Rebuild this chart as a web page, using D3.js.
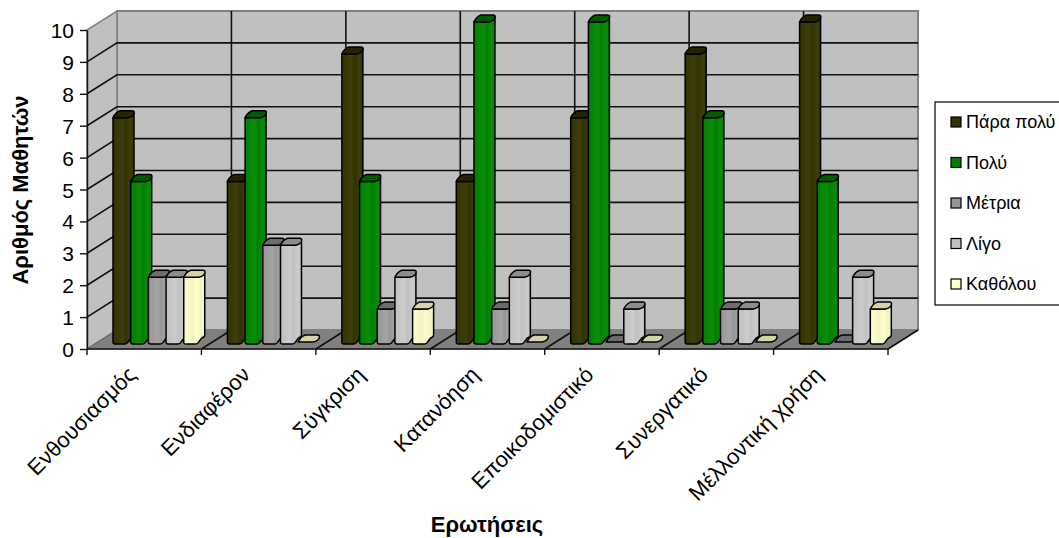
<!DOCTYPE html>
<html>
<head>
<meta charset="utf-8">
<script src="https://cdn.jsdelivr.net/npm/d3@7/dist/d3.min.js"></script>
<style>
  html, body { margin: 0; padding: 0; background: #fff; overflow: hidden; }
  text { font-family: "Liberation Sans", Arial, sans-serif; fill: #000; }
</style>
</head>
<body>
<svg id="chart" width="1059" height="538"></svg>
<script>
// chart data
var categories = ["Ενθουσιασμός", "Ενδιαφέρον", "Σύγκριση", "Κατανόηση", "Εποικοδομιστικό", "Συνεργατικό", "Μέλλοντική χρήση"];
var seriesNames = ["Πάρα πολύ", "Πολύ", "Μέτρια", "Λίγο", "Καθόλου"];
var paraPoly = [7, 5, 9, 5, 7, 9, 10];
var poly = [5, 7, 5, 10, 10, 7, 5];
var metria = [2, 3, 1, 1, 0, 1, 0];
var ligo = [2, 3, 2, 2, 1, 1, 2];
var katholou = [2, 0, 1, 0, 0, 0, 1];
var seriesValues = [paraPoly, poly, metria, ligo, katholou];
var yTicks = [0, 1, 2, 3, 4, 5, 6, 7, 8, 9, 10];

// colours per series: front, side highlight, top face
var barFill = ["#333300", "#008000", "#969696", "#C0C0C0", "#FFFFCC"];
var barLight = ["#3e3e0c", "#0c8c0c", "#a4a4a4", "#cccccc", "#f2f2c4"];
var barTop = ["#242400", "#005c00", "#6c6c6c", "#8c8c8c", "#d4d4a8"];

var svg = d3.select("#chart");

// plot frame
var depthX = 30, depthY = -19;
var y = d3.scaleLinear().domain([0, 10]).range([349, 30]);
var x = d3.scaleBand().domain(categories).range([87, 888]);
var xSeries = d3.scaleBand().domain(seriesNames).range([13, x.bandwidth() - 13]);
var x0 = x.range()[0], x1 = x.range()[1];
var gridColor = "#111";

var defs = svg.append("defs");
seriesNames.forEach(function (name, i) {
  var grad = defs.append("linearGradient").attr("id", "bar" + i);
  grad.append("stop").attr("offset", "0%").attr("stop-color", barFill[i]);
  grad.append("stop").attr("offset", "45%").attr("stop-color", barLight[i]);
  grad.append("stop").attr("offset", "60%").attr("stop-color", barFill[i]);
  grad.append("stop").attr("offset", "85%").attr("stop-color", barLight[i]);
  grad.append("stop").attr("offset", "100%").attr("stop-color", barFill[i]);
});

// back wall
svg.append("rect")
  .attr("x", x0 + depthX)
  .attr("y", y(10) + depthY)
  .attr("width", x1 - x0)
  .attr("height", y(0) - y(10))
  .attr("fill", "#C0C0C0")
  .attr("stroke", "#808080")
  .attr("stroke-width", 2);

// left wall
svg.append("polygon")
  .attr("points", [[x0, y(0)], [x0, y(10)], [x0 + depthX, y(10) + depthY], [x0 + depthX, y(0) + depthY]].join(" "))
  .attr("fill", "#C0C0C0")
  .attr("stroke", "#808080")
  .attr("stroke-width", 1.5);

// floor
svg.append("polygon")
  .attr("points", [[x0, y(0)], [x1, y(0)], [x1 + depthX, y(0) + depthY], [x0 + depthX, y(0) + depthY]].join(" "))
  .attr("fill", "#808080")
  .attr("stroke", "#808080");

// horizontal gridlines, wall and back
yTicks.slice(1, 10).forEach(function (t) {
  svg.append("polyline")
    .attr("points", [[x0, y(t)], [x0 + depthX, y(t) + depthY], [x1 + depthX, y(t) + depthY]].join(" "))
    .attr("fill", "none")
    .attr("stroke", gridColor)
    .attr("stroke-width", 1.6);
});

// vertical gridlines on back wall and slants on the floor
categories.forEach(function (c, i) {
  if (i == 0) return;
  svg.append("line")
    .attr("x1", x(c) + depthX).attr("x2", x(c) + depthX)
    .attr("y1", y(10) + depthY).attr("y2", y(0) + depthY)
    .attr("stroke", gridColor)
    .attr("stroke-width", 1.6);
});
categories.concat([null]).forEach(function (c, i) {
  var px = c ? x(c) : x1;
  if (i == 0) return;
  svg.append("line")
    .attr("x1", px).attr("x2", px + depthX)
    .attr("y1", y(0)).attr("y2", y(0) + depthY)
    .attr("stroke", gridColor)
    .attr("stroke-width", 1.6);
});
svg.append("line")
  .attr("x1", x0).attr("x2", x0 + depthX)
  .attr("y1", y(0)).attr("y2", y(0) + depthY)
  .attr("stroke", "#666");

// bars
var barW = 21, barDx = 13, barDy = -8, topDx = 6, topDy = -7;

function barPath(px, py, base) {
  var r = d3.path();
  r.moveTo(px, py);
  r.lineTo(px + barW - topDx, py);
  r.lineTo(px + barW - 1, py + topDy + 1);
  r.lineTo(px + barW, py + topDy + 3);
  r.lineTo(px + barW, base - 6);
  r.quadraticCurveTo(px + barW, base - 4, px + barW - 3, base - 3);
  r.lineTo(px + barW - topDx, base + 1);
  r.quadraticCurveTo(px + barW - topDx - 1, base + 3, px + barW - topDx - 3, base + 3);
  r.lineTo(px + 2, base + 3);
  r.quadraticCurveTo(px, base + 3, px, base + 1);
  r.closePath();
  return r.toString();
}

function topPath(px, py) {
  var w = barW - topDx;
  var r = d3.path();
  r.moveTo(px, py);
  r.quadraticCurveTo(px + 2, py + topDy + 2, px + topDx + 1, py + topDy);
  r.lineTo(px + barW - 2, py + topDy);
  r.quadraticCurveTo(px + barW + 1, py + topDy, px + barW, py + topDy + 3);
  r.quadraticCurveTo(px + barW - 1, py - 1, px + w, py);
  r.closePath();
  return r.toString();
}

seriesNames.forEach(function (name, s) {
  var g = svg.append("g");
  g.selectAll("g")
    .data(seriesValues[s])
    .enter()
    .append("g")
    .each(function (v, i) {
      var px = x(categories[i]) + xSeries(name) + barDx;
      var base = y(0) + barDy;
      var py = y(v) + barDy;
      var bar = d3.select(this);
      if (v > 0) {
        bar.append("path")
          .attr("d", barPath(px, py, base))
          .attr("fill", "url(#bar" + s + ")")
          .attr("stroke", "#000")
          .attr("stroke-width", 1.5)
          .attr("stroke-linejoin", "round");
      }
      bar.append("path")
        .attr("d", topPath(px, v > 0 ? py : base + 1))
        .attr("fill", barTop[s])
        .attr("stroke", "#000")
        .attr("stroke-width", 1.5)
        .attr("stroke-linejoin", "round");
    });
});

// y axis
var yAxis = svg.append("g")
  .attr("transform", "translate(" + x0 + ",0)")
  .call(d3.axisLeft(y).tickValues(yTicks).tickSize(7).tickPadding(6).tickSizeOuter(0).tickFormat(d3.format("d")));
yAxis.selectAll("text").attr("font-size", 21).attr("dy", "0.36em");
yAxis.selectAll("line").attr("stroke", gridColor).attr("stroke-width", 1.4);
yAxis.select(".domain").attr("stroke", gridColor).attr("stroke-width", 1.4);

// x axis
svg.append("line")
  .attr("x1", x0).attr("x2", x1)
  .attr("y1", y(0)).attr("y2", y(0))
  .attr("stroke", gridColor)
  .attr("stroke-width", 1.6);
categories.concat([null]).forEach(function (c) {
  var px = c ? x(c) : x1;
  svg.append("line")
    .attr("x1", px).attr("x2", px)
    .attr("y1", y(0)).attr("y2", y(0) + 6)
    .attr("stroke", gridColor)
    .attr("stroke-width", 1.4);
});
categories.forEach(function (c) {
  var lx = x(c) + x.bandwidth() / 2 - 7, ly = 376;
  svg.append("text")
    .attr("transform", "translate(" + lx + "," + ly + ") rotate(-45)")
    .attr("text-anchor", "end")
    .attr("font-size", 22)
    .text(c);
});

// axis titles
svg.append("text")
  .attr("x", 487).attr("y", 532)
  .attr("text-anchor", "middle")
  .attr("font-size", 22)
  .attr("font-weight", "bold")
  .text("Ερωτήσεις");
svg.append("text")
  .attr("transform", "translate(28,190) rotate(-90)")
  .attr("text-anchor", "middle")
  .attr("font-size", 22)
  .attr("font-weight", "bold")
  .text("Αριθμός Μαθητών");

// legend
svg.append("rect")
  .attr("x", 935).attr("y", 102)
  .attr("width", 140).attr("height", 203)
  .attr("fill", "#fff")
  .attr("stroke", "#000")
  .attr("stroke-width", 1.2);
var legendY = d3.scalePoint().domain(seriesNames).range([122, 284]);
seriesNames.forEach(function (name, i) {
  svg.append("rect")
    .attr("x", 951).attr("y", legendY(name) - 5)
    .attr("width", 10).attr("height", 10)
    .attr("fill", barFill[i])
    .attr("stroke", "#000")
    .attr("stroke-width", 1.2);
  svg.append("text")
    .attr("x", 966).attr("y", legendY(name))
    .attr("dy", "0.36em")
    .attr("font-size", 18)
    .text(name);
});
</script>
</body>
</html>
